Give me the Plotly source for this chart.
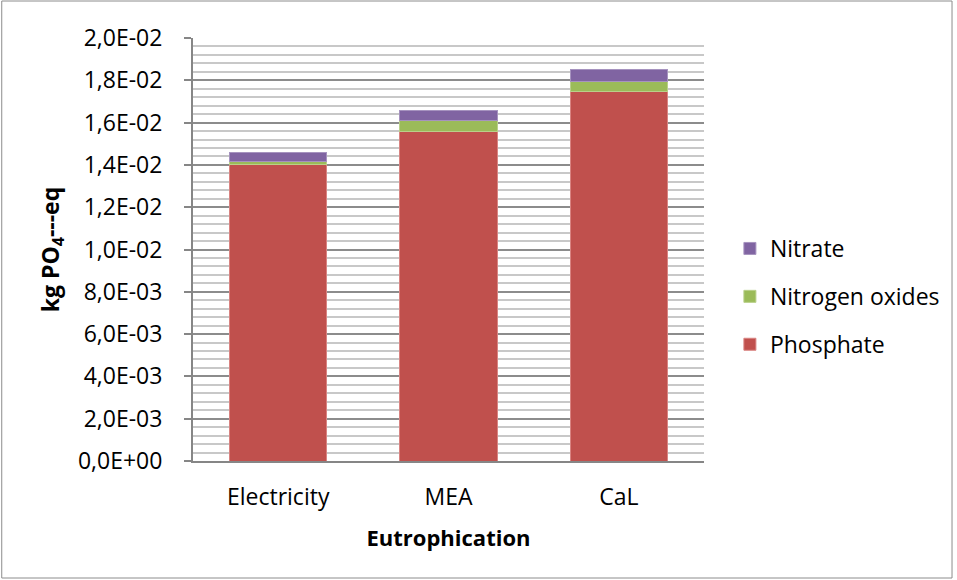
import plotly.graph_objects as go

# Eutrophication potential per scenario, split by contributing substance
categories = ["Electricity", "MEA", "CaL"]
phosphate = [0.01401, 0.01557, 0.01749]
nitrogen_oxides = [0.00017, 0.00051, 0.00047]
nitrate = [0.00043, 0.00047, 0.00053]

tick_values = [0.0, 0.002, 0.004, 0.006, 0.008, 0.010, 0.012, 0.014, 0.016, 0.018, 0.020]
tick_labels = ["0,0E+00", "2,0E-03", "4,0E-03", "6,0E-03", "8,0E-03", "1,0E-02",
               "1,2E-02", "1,4E-02", "1,6E-02", "1,8E-02", "2,0E-02"]

FONT = "Open Sans"
W, H = 957, 580
L, R, T, B = 193, 706, 38, 461  # plot area in pixels

fig = go.Figure()
# stacked bottom to top; legend lists the top segment first
series = [
    ("Phosphate", phosphate, "#C0504D", "#D98482", 3),
    ("Nitrogen oxides", nitrogen_oxides, "#9BBB59", "#B9D08A", 2),
    ("Nitrate", nitrate, "#8064A2", "#A693BF", 1),
]
for name, vals, color, edge, rank in series:
    fig.add_trace(go.Bar(
        x=categories, y=vals, name=name, legendgroup=name, legendrank=rank,
        marker=dict(color=color, line=dict(color=edge, width=1)),
    ))

# outer chart border
def px_x(p):
    return (p - L) / (R - L)

def px_y(p):
    return (B - p) / (B - T)

fig.add_shape(type="rect", xref="paper", yref="paper",
              x0=px_x(1), x1=px_x(955), y0=px_y(578), y1=px_y(1),
              line=dict(color="#8C8C8C", width=1), fillcolor="rgba(0,0,0,0)", layer="below")

fig.update_layout(
    width=W, height=H,
    margin=dict(l=L, r=W - R, t=T, b=H - B, pad=0),
    paper_bgcolor="white", plot_bgcolor="white",
    barmode="stack", bargap=0.43,
    font=dict(family=FONT, color="#000000", size=23),
    legend=dict(
        x=px_x(732), y=px_y(227), xanchor="left", yanchor="top",
        traceorder="grouped", tracegroupgap=15,
        font=dict(size=23, family=FONT), itemwidth=30,
        bgcolor="rgba(0,0,0,0)",
    ),
    xaxis=dict(
        showline=True, linecolor="#868686", linewidth=2,
        ticks="", tickfont=dict(size=23, family=FONT), ticklabelstandoff=14,
        title=dict(text="<b>Eutrophication</b>", font=dict(size=22, family=FONT), standoff=20),
    ),
    yaxis=dict(
        range=[0, 0.02], tickvals=tick_values, ticktext=tick_labels,
        showline=True, linecolor="#868686", linewidth=2,
        ticks="outside", ticklen=7, tickcolor="#868686", tickwidth=2,
        ticklabelstandoff=17,
        showgrid=True, gridcolor="#8C8C8C", gridwidth=1.5,
        tickfont=dict(size=23, family=FONT),
        minor=dict(dtick=0.0004, tick0=0, showgrid=True, gridcolor="#C8C8C8", gridwidth=1.5, ticks=""),
        zeroline=False,
        title=dict(text="<b>kg PO<sub>4</sub>---eq</b>", font=dict(size=23, family=FONT), standoff=12),
    ),
)

fig.write_html("out.html")
